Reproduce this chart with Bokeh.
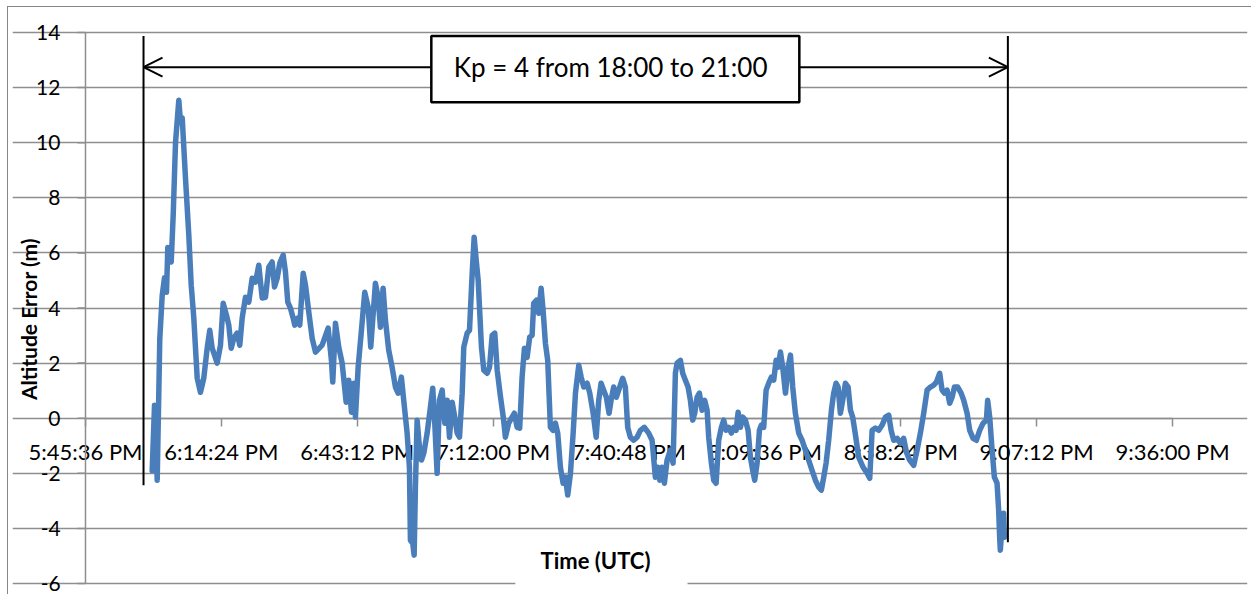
import math
from bokeh.plotting import figure
from bokeh.models import FixedTicker, Arrow, OpenHead, BoxAnnotation, Label, Range1d
from bokeh.embed import file_html
from bokeh.resources import INLINE

# ---- data: minutes after 18:00 UTC, altitude error in metres ----
time_min = [
    -0.26, 0.23, 0.44, 0.80, 1.35, 1.86, 2.35, 2.77, 3.05, 3.77, 4.19, 4.68, 5.38, 5.74, 6.10,
    6.80, 7.50, 8.01, 8.56, 9.28, 9.97, 10.67, 11.39, 11.94, 12.45, 12.94, 13.51, 14.21, 14.78,
    15.48, 15.97, 16.48, 17.03, 17.75, 18.30, 18.81, 19.51, 20.21, 20.93, 21.63, 22.33, 23.05,
    23.75, 24.45, 25.17, 25.66, 26.23, 26.78, 27.50, 27.99, 28.48, 29.05, 29.62, 29.96, 30.60,
    31.02, 31.74, 32.23, 32.93, 33.65, 34.35, 35.76, 37.03, 37.73, 38.01, 38.58, 39.28, 40.00,
    40.85, 41.40, 41.97, 42.46, 42.82, 43.39, 44.09, 44.79, 45.51, 46.06, 46.48, 47.05, 47.62,
    48.11, 48.68, 49.17, 49.87, 50.59, 51.29, 51.86, 52.56, 53.05, 53.77, 54.26, 54.47, 54.96,
    55.26, 55.53, 55.89, 56.38, 56.81, 57.30, 58.02, 58.71, 59.20, 59.63, 60.13, 60.62, 61.20,
    61.75, 62.26, 62.75, 63.32, 63.87, 64.38, 64.87, 65.44, 65.78, 66.50, 66.99, 67.56, 67.98,
    68.41, 68.83, 69.11, 69.53, 70.02, 70.74, 71.23, 71.80, 72.35, 72.86, 73.54, 74.18, 74.60,
    75.30, 76.02, 76.51, 77.08, 77.63, 78.14, 78.63, 79.20, 79.75, 80.26, 80.60, 81.17, 81.66,
    82.17, 82.59, 83.08, 83.57, 84.14, 84.71, 85.20, 85.69, 86.26, 86.83, 87.32, 87.81, 88.39,
    88.96, 89.45, 90.15, 90.66, 91.21, 91.93, 92.48, 93.20, 93.84, 94.38, 94.88, 95.43, 96.00,
    96.57, 97.00, 97.55, 98.12, 98.83, 99.46, 100.03, 100.52, 101.09, 101.79, 102.51, 103.21,
    104.06, 104.97, 105.69, 106.39, 106.88, 107.30, 107.81, 108.30, 108.87, 109.57, 110.14,
    110.63, 110.99, 111.69, 112.18, 112.75, 113.32, 113.81, 114.30, 114.72, 115.23, 115.72,
    116.29, 116.84, 117.35, 117.69, 118.26, 118.75, 119.26, 119.81, 120.38, 120.87, 121.38,
    121.93, 122.50, 122.99, 123.50, 123.93, 124.41, 124.90, 125.47, 126.04, 126.53, 127.02,
    127.44, 127.95, 128.44, 128.86, 129.35, 129.86, 130.41, 130.98, 131.47, 131.98, 132.41,
    132.90, 133.38, 133.96, 134.53, 135.02, 135.50, 136.06, 136.77, 137.48, 138.18, 138.88,
    139.60, 140.30, 141.00, 141.57, 142.07, 142.57, 143.12, 143.70, 144.18, 144.69, 145.12,
    145.60, 146.09, 146.67, 147.24, 147.73, 148.21, 148.79, 149.49, 150.42, 151.27, 151.82,
    152.33, 153.03, 153.73, 154.45, 155.15, 155.85, 156.36, 156.91, 157.63, 158.31, 159.01,
    159.59, 160.29, 161.14, 161.86, 162.56, 163.26, 163.98, 164.68, 165.38, 165.95, 166.65,
    167.16, 167.65, 168.22, 168.77, 169.28, 169.77, 170.47, 171.19, 171.74, 172.46, 173.01,
    173.73, 174.43, 175.13, 175.85, 176.55, 176.82, 177.25, 177.76, 178.24, 178.81, 179.15,
    179.36, 179.50, 179.86, 180.20, 180.35,
]
altitude_error_m = [
    -1.90, 0.47, -0.10, -2.25, 2.90, 4.46, 5.10, 4.57, 6.20, 5.67, 7.37, 10.00, 11.54, 10.74, 10.90,
    8.70, 6.64, 4.83, 3.63, 1.45, 0.94, 1.45, 2.54, 3.19, 2.54, 2.29, 2.00, 2.65, 4.17,
    3.74, 3.38, 2.54, 2.90, 3.09, 2.65, 3.63, 4.39, 4.21, 5.08, 4.94, 5.55, 4.36,
    4.39, 5.48, 5.67, 4.76, 5.08, 5.63, 5.92, 5.30, 4.21, 3.99, 3.63, 3.38, 3.63,
    3.38, 5.26, 4.83, 3.85, 2.90, 2.40, 2.65, 3.27, 2.10, 1.31, 3.45, 2.58, 2.00,
    0.58, 1.38, 0.22, 1.27, 0.04, 1.85, 3.19, 4.57, 4.03, 2.58, 3.56, 4.90, 4.39,
    3.30, 4.72, 3.56, 2.47, 1.85, 1.13, 0.91, 1.49, 0.65, -0.54, -1.78, -4.43, -4.54,
    -4.97, -2.50, -0.07, -1.05, -1.52, -1.27, -0.54, 0.40, 1.09, -0.18, -2.00, 0.65, 1.02,
    -0.18, 0.65, -0.69, 0.58, 0.04, -0.54, -0.69, 0.91, 2.58, 3.09, 3.19, 5.26, 6.57,
    5.74, 5.01, 4.03, 2.58, 1.74, 1.63, 1.85, 3.01, 3.09, 1.74, 0.80, 0.00, -0.69,
    -0.18, 0.04, 0.18, -0.33, -0.36, 1.49, 2.54, 2.21, 2.94, 3.01, 4.17, 4.28, 3.81,
    4.72, 3.92, 2.72, 2.10, -0.33, -0.44, -0.18, -0.54, -1.78, -2.36, -2.14, -2.79, -2.00,
    -0.54, 0.91, 1.92, 1.49, 1.13, 1.27, 0.91, 0.18, -0.69, 0.65, 1.27, 1.02, 0.76,
    0.18, 0.65, 1.13, 0.76, 1.13, 1.45, 1.13, -0.33, -0.69, -0.80, -0.69, -0.44,
    -0.33, -0.54, -0.80, -2.14, -1.78, -2.25, -1.78, -2.36, -1.52, -1.16, -1.63,
    1.63, 2.00, 2.10, 1.63, 1.38, 1.13, 0.65, -0.07, 0.18, 0.76, 0.91,
    0.29, 0.65, 0.29, -0.69, -1.63, -2.25, -2.36, -0.80, -0.33, -0.07, -0.44,
    -0.33, -0.54, -0.33, -0.44, 0.22, -0.33, 0.04, -0.07, -0.44, -1.42, -1.89,
    -2.25, -1.63, -0.44, -0.25, -0.33, 1.02, 1.27, 1.49, 1.38, 2.10, 1.85,
    2.40, 1.85, 0.91, 1.85, 2.29, 1.13, 0.18, -0.54, -0.80, -1.16, -1.52,
    -1.89, -2.25, -2.50, -2.61, -2.14, -1.63, -0.80, 0.29, 0.91, 1.27, 1.13,
    0.18, 0.65, 1.27, 1.13, 0.29, 0.04, -0.60, -1.42, -1.78, -2.00, -2.18,
    -0.44, -0.36, -0.44, -0.25, 0.04, 0.11, -0.44, -0.80, -0.73, -0.91, -0.73,
    -1.23, -1.52, -1.71, -1.16, -0.54, 0.18, 1.02, 1.13, 1.20, 1.31, 1.63,
    1.02, 0.91, 1.02, 0.54, 0.76, 1.13, 1.13, 0.91, 0.65, 0.18, -0.44,
    -0.73, -0.80, -0.44, -0.18, -0.07, 0.65, 0.04, -1.16, -2.14, -2.36, -3.34,
    -4.32, -4.79, -3.96, -3.45, -4.32,
]

x_tick_labels = ["5:45:36 PM", "6:14:24 PM", "6:43:12 PM", "7:12:00 PM", "7:40:48 PM",
                 "8:09:36 PM", "8:38:24 PM", "9:07:12 PM", "9:36:00 PM"]
y_ticks = [-6, -4, -2, 0, 2, 4, 6, 8, 10, 12, 14]
y_tick_labels = ["-6", "-4", "-2", "0", "2", "4", "6", "8", "10", "12", "14"]

annotation_text = "Kp = 4 from 18:00 to 21:00"
x_title = "Time (UTC)"
y_title = "Altitude Error (m)"

# x ticks: 17:45:36 (= -14.4 min after 18:00) in steps of 28.8 minutes
x_ticks = [round(-14.4 + 28.8 * i, 1) for i in range(len(x_tick_labels))]
X_LO, X_HI = x_ticks[0], x_ticks[-1]
Y_LO, Y_HI = y_ticks[0], y_ticks[-1]

FONT = "Lato"
GRID = "#8e8e8e"
BLUE = "#4A7EBB"

W, H = 1244, 588
BORDER_L, BORDER_R = 4, 5
XR = (-29.87, 231.89)
PX_PER_MIN = (W - BORDER_L - BORDER_R) / (XR[1] - XR[0])

# The frame is made larger than the plotted area so that the axes (which sit
# inside the frame, Excel-style) and their labels are not clipped.
p = figure(width=W, height=H, output_backend="svg", toolbar_location=None,
           x_range=Range1d(*XR), y_range=Range1d(-6.4356, 14.5808),
           min_border_left=BORDER_L, min_border_right=BORDER_R, min_border_top=9, min_border_bottom=0)
p.outline_line_color = None
p.styles = {"margin-left": "7px", "margin-top": "6px",
            "border-top": "1px solid #868686", "border-left": "1px solid #868686"}

# grid
p.xgrid.visible = False
p.ygrid.ticker = FixedTicker(ticks=y_ticks)
p.ygrid.bounds = (X_LO, X_HI)
p.ygrid.grid_line_color = GRID
p.ygrid.grid_line_width = 1.5

# y axis drawn Excel-style at the left edge of the time span
p.yaxis.visible = False
TICK = 8 / PX_PER_MIN
p.segment(x0=[X_LO], y0=[Y_LO], x1=[X_LO], y1=[Y_HI], line_color=GRID, line_width=1.5)
p.segment(x0=[X_LO - TICK] * len(y_ticks), y0=y_ticks, x1=[X_LO] * len(y_ticks), y1=y_ticks,
          line_color=GRID, line_width=1.5)


def text_w(s):
    return sum(7.4 if ch == "-" else 12.2 for ch in s)


for t, lab in zip(y_ticks, y_tick_labels):
    cx = X_LO - (25 + text_w(lab) / 2) / PX_PER_MIN
    p.add_layout(Label(x=cx, y=t, text=lab, text_align="center", text_baseline="middle",
                       text_font=FONT, text_font_size="21px", text_color="black"))

# x axis crossing at y = 0
p.xaxis.fixed_location = 0
p.xaxis.bounds = (X_LO, X_HI)
p.xaxis.level = "underlay"
p.xaxis.ticker = FixedTicker(ticks=x_ticks)
p.xaxis.major_label_overrides = {t: l for t, l in zip(x_ticks, x_tick_labels)}
p.xaxis.axis_line_color = GRID
p.xaxis.axis_line_width = 1.5
p.xaxis.major_tick_line_color = GRID
p.xaxis.major_tick_line_width = 1.5
p.xaxis.major_tick_out = 8
p.xaxis.major_tick_in = 0
p.xaxis.minor_tick_line_color = None
p.xaxis.major_label_text_font = FONT
p.xaxis.major_label_text_font_size = "22px"
p.xaxis.major_label_text_color = "black"
p.xaxis.major_label_standoff = 12

# data
p.line(time_min, altitude_error_m, line_color=BLUE, line_width=5.5, line_join="round", line_cap="round")

# y axis title
p.add_layout(Label(x=-26.4, y=3.6, text=y_title, angle=math.pi / 2, text_align="center",
                   text_baseline="middle", text_font=FONT, text_font_style="bold",
                   text_font_size="21px", text_color="black"))

# Kp annotation
KP_LEFT, KP_RIGHT = -2.1, 181.1
ARROW_Y = 12.74
p.segment(x0=[KP_LEFT, KP_RIGHT], y0=[-2.43, -4.5], x1=[KP_LEFT, KP_RIGHT], y1=[13.87, 13.87],
          line_color="black", line_width=2)
p.add_layout(Arrow(start=OpenHead(size=19, line_width=2, line_color="black"),
                   end=OpenHead(size=19, line_width=2, line_color="black"),
                   x_start=KP_LEFT, y_start=ARROW_Y, x_end=KP_RIGHT, y_end=ARROW_Y,
                   line_width=2, line_color="black"))
p.add_layout(BoxAnnotation(left=58.9, right=136.9, bottom=11.47, top=13.87,
                           fill_color="white", fill_alpha=1.0,
                           line_color="black", line_alpha=1.0, line_width=2.5))
p.add_layout(Label(x=96.9, y=ARROW_Y, text=annotation_text, text_align="center", text_baseline="middle",
                   text_font=FONT, text_font_size="26px", text_color="black"))

# x axis title with white background over the bottom gridline
p.add_layout(BoxAnnotation(left=76.7, right=113.2, bottom=-6.3, top=-4.36,
                           fill_color="white", fill_alpha=1.0, line_color=None))
p.add_layout(Label(x=93.7, y=-5.15, text=x_title, text_align="center", text_baseline="middle",
                   text_font=FONT, text_font_style="bold", text_font_size="22px", text_color="black"))

open("out.html", "w").write(file_html(p, INLINE))
